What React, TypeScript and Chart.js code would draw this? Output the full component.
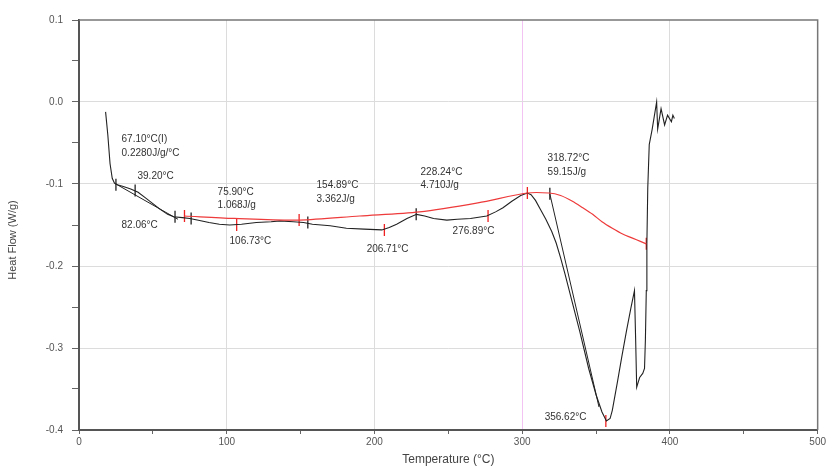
import React, { useEffect, useRef } from "react";
import { Chart, registerables } from "chart.js";

Chart.register(...registerables);

// Main DSC curve
const curveT = [18.0, 19.5, 21.0, 22.5, 24.0, 26.0, 30.0, 35.0, 40.0, 45.0, 50.0, 55.0, 60.0, 64.0, 70.0, 75.0, 80.0, 88.0, 95.0, 102.0, 110.0, 120.0, 130.0, 136.0, 145.0, 152.0, 158.0, 170.0, 181.0, 193.0, 205.0, 210.0, 215.0, 222.0, 228.5, 234.0, 240.0, 249.0, 256.0, 265.0, 276.0, 282.0, 287.0, 293.0, 299.0, 303.5, 306.0, 309.0, 312.0, 316.0, 320.0, 323.0, 326.0, 329.0, 334.0, 339.0, 345.0, 350.0, 354.0, 357.0, 359.5, 361.0, 364.6, 367.5, 370.6, 373.5, 376.0, 376.8, 377.5, 378.5, 379.5, 381.6, 382.8, 383.4, 384.0, 384.4, 385.0, 386.0, 388.0, 391.0, 391.7, 394.0, 396.4, 398.4, 401.0, 402.0, 403.0];
const curveHF = [-0.012, -0.04, -0.075, -0.093, -0.099, -0.101, -0.103, -0.106, -0.110, -0.117, -0.124, -0.131, -0.137, -0.140, -0.141, -0.142, -0.144, -0.147, -0.149, -0.150, -0.149, -0.147, -0.146, -0.145, -0.146, -0.147, -0.149, -0.151, -0.154, -0.155, -0.156, -0.153, -0.149, -0.142, -0.137, -0.139, -0.142, -0.144, -0.143, -0.142, -0.139, -0.134, -0.129, -0.121, -0.114, -0.111, -0.113, -0.120, -0.130, -0.143, -0.158, -0.172, -0.190, -0.210, -0.245, -0.280, -0.325, -0.357, -0.378, -0.389, -0.386, -0.376, -0.340, -0.310, -0.279, -0.252, -0.230, -0.290, -0.348, -0.342, -0.336, -0.331, -0.325, -0.290, -0.230, -0.173, -0.105, -0.052, -0.033, 0.000, -0.033, -0.008, -0.028, -0.016, -0.024, -0.016, -0.020];

// Red integration baselines
const baselineT = [71.4, 105.0, 149.0, 190.0, 230.5, 270.0, 303.5, 318.0, 326.0, 334.0, 341.0, 347.7, 354.0, 361.0, 368.0, 374.7, 380.0, 384.0];
const baselineHF = [-0.139, -0.142, -0.144, -0.139, -0.134, -0.123, -0.111, -0.111, -0.114, -0.121, -0.129, -0.137, -0.146, -0.154, -0.161, -0.166, -0.170, -0.173];

// Black tangent lines
const glassTangentT = [24.0, 67.0];
const glassTangentHF = [-0.099, -0.143];
const onsetTangentT = [318.7, 352.0];
const onsetTangentHF = [-0.112, -0.372];

// Event markers
const redMarkT = [71.4, 106.73, 149.0, 206.71, 276.89, 303.5, 356.62, 384.0];
const redMarkHF = [-0.139, -0.150, -0.144, -0.156, -0.139, -0.111, -0.389, -0.173];
const blackMarkT = [25.0, 38.0, 65.0, 75.9, 154.89, 228.24, 318.72];
const blackMarkHF = [-0.101, -0.108, -0.140, -0.142, -0.147, -0.137, -0.112];

// Annotation texts (anchored in data units: temperature, heat flow)
const noteTexts = ["67.10°C(I)", "0.2280J/g/°C", "39.20°C", "82.06°C", "75.90°C", "1.068J/g", "106.73°C", "154.89°C", "3.362J/g", "206.71°C", "228.24°C", "4.710J/g", "276.89°C", "318.72°C", "59.15J/g", "356.62°C"];
const noteT = [28.8, 28.8, 39.6, 28.8, 93.8, 93.8, 101.9, 160.8, 160.8, 194.7, 231.2, 231.2, 252.9, 317.2, 317.2, 315.2];
const noteHF = [-0.045, -0.062, -0.090, -0.150, -0.110, -0.126, -0.170, -0.102, -0.118, -0.179, -0.086, -0.101, -0.158, -0.069, -0.086, -0.384];

const xTitle = "Temperature (°C)";
const yTitle = "Heat Flow (W/g)";

const pts = (xs: number[], ys: number[]) => xs.map((x, i) => ({ x, y: ys[i] }));

export default function App() {
  const ref = useRef<HTMLCanvasElement | null>(null);

  useEffect(() => {
    if (!ref.current) return;

    const decorPlugin = {
      id: "decor",
      afterDatasetsDraw(chart: any) {
        const { ctx, chartArea, scales } = chart;
        const xs = scales.x;
        const ys = scales.y;
        ctx.save();
        // frame top/right
        ctx.strokeStyle = "#777";
        ctx.lineWidth = 1.5;
        ctx.beginPath();
        ctx.moveTo(chartArea.left, chartArea.top);
        ctx.lineTo(chartArea.right, chartArea.top);
        ctx.lineTo(chartArea.right, chartArea.bottom);
        ctx.stroke();
        // notes
        ctx.fillStyle = "#333";
        ctx.font = "10px 'Liberation Sans', Arial, sans-serif";
        ctx.textAlign = "left";
        ctx.textBaseline = "middle";
        noteTexts.forEach((t, i) => {
          ctx.fillText(t, xs.getPixelForValue(noteT[i]), ys.getPixelForValue(noteHF[i]));
        });
        // titles
        ctx.fillStyle = "#444";
        ctx.font = "12px 'Liberation Sans', Arial, sans-serif";
        ctx.textAlign = "center";
        ctx.fillText(xTitle, (chartArea.left + chartArea.right) / 2, 460);
        ctx.translate(13, 240);
        ctx.rotate(-Math.PI / 2);
        ctx.font = "11px 'Liberation Sans', Arial, sans-serif";
        ctx.fillText(yTitle, 0, 0);
        ctx.restore();
      },
    };

    const chart = new Chart(ref.current, {
      type: "scatter",
      data: {
        datasets: [
          {
            label: "baseline",
            data: pts(baselineT, baselineHF),
            showLine: true,
            borderColor: "#ee3a3a",
            borderWidth: 1.2,
            pointRadius: 0,
            tension: 0.3,
          },
          {
            label: "heat flow",
            data: pts(curveT, curveHF),
            showLine: true,
            borderColor: "#222",
            borderWidth: 1.1,
            pointRadius: 0,
          },
          {
            label: "glass tangent",
            data: pts(glassTangentT, glassTangentHF),
            showLine: true,
            borderColor: "#222",
            borderWidth: 1,
            pointRadius: 0,
          },
          {
            label: "onset tangent",
            data: pts(onsetTangentT, onsetTangentHF),
            showLine: true,
            borderColor: "#222",
            borderWidth: 1,
            pointRadius: 0,
          },
          {
            label: "red marks",
            data: pts(redMarkT, redMarkHF),
            showLine: false,
            pointStyle: "line",
            rotation: 90,
            pointRadius: 6,
            borderColor: "#ee2222",
            borderWidth: 1.3,
          },
          {
            label: "black marks",
            data: pts(blackMarkT, blackMarkHF),
            showLine: false,
            pointStyle: "line",
            rotation: 90,
            pointRadius: 6,
            borderColor: "#222",
            borderWidth: 1.3,
          },
        ],
      },
      options: {
        responsive: false,
        animation: false,
        layout: { padding: { left: 0, top: 20, right: 10, bottom: 0 } },
        plugins: { legend: { display: false }, tooltip: { enabled: false } },
        scales: {
          x: {
            type: "linear",
            min: 0,
            max: 500,
            afterFit: (s: any) => { s.height = 38; },
            ticks: {
              stepSize: 50,
              padding: 2,
              color: "#555",
              font: { size: 10, family: "'Liberation Sans', Arial, sans-serif" },
              maxRotation: 0,
              autoSkip: false,
              callback: (v: any) => (Math.round(v) % 100 === 0 ? String(v) : ""),
            },
            grid: {
              color: (c: any) => {
                const v = Math.round(c.tick?.value ?? 0);
                if (v % 100 !== 0 || v === 0 || v === 500) return "rgba(0,0,0,0)";
                if (v === 300) return "#f3c4f3";
                return "#dcdcdc";
              },
              tickColor: "#666",
              tickLength: 4,
              lineWidth: 1,
            },
            border: { display: true, color: "#555", width: 2 },
          },
          y: {
            type: "linear",
            min: -0.4,
            max: 0.1,
            afterFit: (s: any) => { s.width = 79; },
            ticks: {
              stepSize: 0.05,
              padding: 9,
              color: "#555",
              font: { size: 10, family: "'Liberation Sans', Arial, sans-serif" },
              autoSkip: false,
              callback: (v: any) => (Math.abs(Math.round(v * 20)) % 2 === 0 ? Number(v).toFixed(1) : ""),
            },
            grid: {
              color: (c: any) => {
                const k = Math.round((c.tick?.value ?? 0) * 20);
                if (k % 2 !== 0 || k === 2 || k === -8) return "rgba(0,0,0,0)";
                return "#dcdcdc";
              },
              tickColor: "#666",
              tickLength: 7,
              lineWidth: 1,
            },
            border: { display: true, color: "#555", width: 2 },
          },
        },
      },
      plugins: [decorPlugin],
    } as any);

    return () => chart.destroy();
  }, []);

  return (
    <div style={{ position: "absolute", left: 0, top: 0, width: 828, height: 468, background: "#fff" }}>
      <canvas ref={ref} width={828} height={468} style={{ display: "block" }} />
    </div>
  );
}
